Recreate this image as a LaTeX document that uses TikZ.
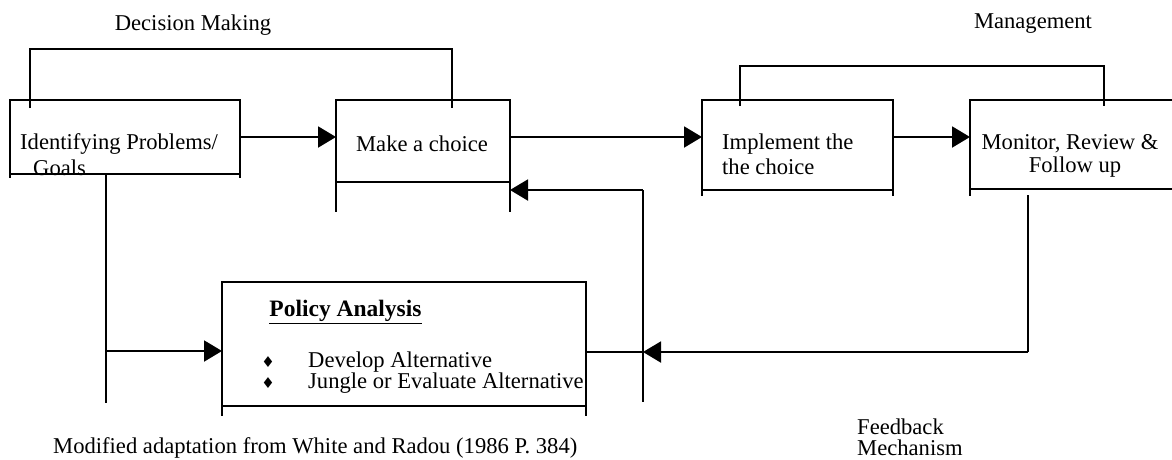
\documentclass[tikz,border=0pt]{standalone}
\usepackage{fontspec}
\setmainfont{Liberation Serif}
\newfontfamily\symfont{DejaVu Sans}
\usetikzlibrary{arrows.meta}
\begin{document}
\begin{tikzpicture}[x=1pt,y=-1pt,
  ln/.style={line width=2pt},
  arr/.style={ln,-{Triangle[length=18pt,width=21pt]}},
  boxnode/.style={draw,line width=2pt,rectangle,inner sep=0pt,outer sep=0pt},
  txt/.style={inner sep=0pt,font=\fontsize{22.6}{26}\selectfont},
  bul/.style={inner sep=0pt,font=\symfont\fontsize{15}{17}\selectfont}]
\useasboundingbox (0,0) rectangle (1172,459);

% boxes
\node[boxnode,minimum width=230pt,minimum height=74pt] (b1) at (125,137) {};
\node[boxnode,minimum width=174pt,minimum height=82pt] (b2) at (423,141) {};
\node[boxnode,minimum width=191pt,minimum height=90pt] (b3) at (797.5,145) {};
\node[boxnode,minimum width=220pt,minimum height=89pt] (b4) at (1080,144.5) {};
\node[boxnode,minimum width=364pt,minimum height=124pt] (pa) at (404,344) {};

% legs / ticks
\draw[ln] (b1.south west) -- ++(0,4);
\draw[ln] (b1.south east) -- ++(0,4);
\draw[ln] (b2.south west) -- ++(0,30);
\draw[ln] (b2.south east) -- ++(0,30);
\draw[ln] (b3.south west) -- ++(0,6);
\draw[ln] (b3.south east) -- ++(0,6);
\draw[ln] (b4.south west) -- ++(0,7);
\draw[ln] (pa.south west) -- ++(0,10);
\draw[ln] (pa.south east) -- ++(0,10);

% texts
\node[txt] (tdm) at (193,25) {Decision Making};
\node[txt] (tmg) at (1033,24) {Management};
\node[txt,anchor=west] (t1a) at (20,144) {Identifying Problems/};
\node[txt,anchor=west] (t1b) at (33,168) {Goals};
\node[txt] (t2) at (422,144) {Make a choice};
\node[txt,anchor=west] (t3a) at (722,144) {Implement the};
\node[txt,anchor=west] (t3b) at (722,167) {the choice};
\node[txt] (t4a) at (1070,144) {Monitor, Review \&};
\node[txt] (t4b) at (1075,167) {Follow up};
\node[txt,font=\fontsize{23.5}{27}\selectfont\bfseries] (tpa) at (345.5,312) {\underline{Policy Analysis}};
\node[bul] (bu1) at (268,362) {♦};
\node[bul] (bu2) at (268,383) {♦};
\node[txt,anchor=west] (tp1) at (308,362) {Develop Alternative};
\node[txt,anchor=west] (tp2) at (308,383) {Jungle or Evaluate Alternative};
\node[txt,anchor=west] (tfa) at (857,427) {Feedback};
\node[txt,anchor=base west] (tfb) at (857,455) {Mechanism};
\node[txt,anchor=base west] (tcap) at (53,453) {Modified adaptation from White and Radou (1986 P. 384)};

% top loops
\draw[ln] ([shift={(20,8)}]b1.north west) -- ++(0,-59) -| ([shift={(-58,8)}]b2.north east);
\draw[ln] ([shift={(38,6)}]b3.north west) -- ++(0,-40) -| ([shift={(134,6)}]b4.north west);

% main arrows
\draw[arr] (b1.east) -- (b1.east -| b2.west);
\draw[arr] (b2.east |- b1.east) -- (b3.west |- b1.east);
\draw[arr] (b3.east |- b1.east) -- (b4.west |- b1.east);

% identifying -> policy analysis
\coordinate (d1) at ([xshift=96]b1.south west);
\coordinate (pin) at ([yshift=-7]pa.west);
\draw[ln] (d1) -- ++(0,229);
\draw[arr] (d1 |- pin) -- (pin);

% feedback from policy analysis to make a choice
\coordinate (fx) at (643,190);
\coordinate (pout) at ([yshift=-8]pa.east);
\draw[ln] (pout) -- (pout -| fx);
\draw[ln] (fx) -- ++(0,212);
\draw[arr] (fx) -- (fx -| b2.east);

% feedback from monitor
\coordinate (m1) at (1028,195);
\coordinate (m2) at (1028,352);
\draw[ln] (m1) -- (m2);
\draw[arr] (m2) -- (m2 -| fx);
\end{tikzpicture}
\end{document}
